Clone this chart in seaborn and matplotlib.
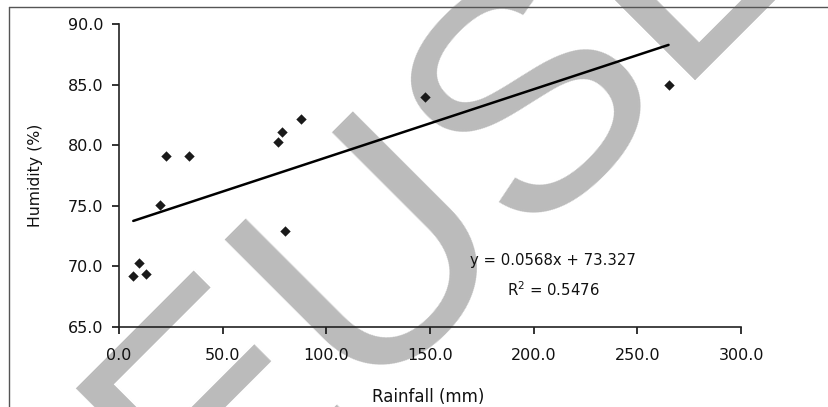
import numpy as np
import pandas as pd
import matplotlib
matplotlib.use('Agg')
import matplotlib.pyplot as plt
from matplotlib.lines import Line2D
import seaborn as sns

# values
rainfall = [6.9, 9.8, 12.9, 19.8, 22.7, 33.9, 76.5, 78.5, 87.9, 80.0, 147.6, 265.0]
humidity = [69.2, 70.3, 69.4, 75.1, 79.1, 79.1, 80.3, 81.1, 82.2, 72.9, 84.0, 85.0]
x_ticks = [0, 50, 100, 150, 200, 250, 300]
y_ticks = [65, 70, 75, 80, 85, 90]
eq_text = "y = 0.0568x + 73.327"
r2_text = "R$^2$ = 0.5476"

df = pd.DataFrame({'Rainfall': rainfall, 'Humidity': humidity})

sns.set_style("ticks")
plt.rcParams['font.family'] = ['DejaVu Sans']

fig = plt.figure(figsize=(8.29, 4.07), dpi=100)
ax = fig.add_axes([0.1435, 0.1966, 0.7505, 0.7445])
ax.patch.set_alpha(0)

# watermark behind the chart
fig.text(0.248, -0.337, "EUSL", rotation=45, rotation_mode='anchor',
         ha='left', va='baseline', fontsize=230, color='#bbbbbb',
         family='Liberation Sans', zorder=-1)

sns.regplot(data=df, x='Rainfall', y='Humidity', ci=None, scatter=False,
            line_kws={'color': 'black', 'lw': 1.8}, ax=ax)
sns.scatterplot(data=df, x='Rainfall', y='Humidity', marker='D', s=28,
                color='#1a1a1a', linewidth=0, ax=ax, zorder=3)

ax.set_xlim(0, 300)
ax.set_ylim(65, 90)
ax.set_xticks(x_ticks)
ax.set_yticks(y_ticks)
ax.set_xticklabels([f"{v:.1f}" for v in x_ticks])
ax.set_yticklabels([f"{v:.1f}" for v in y_ticks])
ax.tick_params(axis='x', direction='out', length=5, width=1.2, pad=10, labelsize=11.5, colors='#111111')
ax.tick_params(axis='y', direction='out', length=5, width=1.2, pad=6, labelsize=11.5, colors='#111111')
for side in ['top', 'right']:
    ax.spines[side].set_visible(False)
for side in ['left', 'bottom']:
    ax.spines[side].set_linewidth(1.2)
    ax.spines[side].set_color('#222222')

ax.set_xlabel("Rainfall (mm)", fontsize=12, color='#111111')
ax.set_ylabel("Humidity (%)", fontsize=11.3, color='#111111')
ax.xaxis.set_label_coords(0.497, -0.201)
ax.yaxis.set_label_coords(-0.122, 0.5)

ax.text(169.3, 70.45, eq_text, fontsize=10.7, va='center', ha='left', color='#111111')
ax.text(187, 68.1, r2_text, fontsize=10.7, va='center', ha='left', color='#111111')

# outer chart-area border (only top and left visible)
fig.add_artist(Line2D([9/829, 9/829], [0, 1 - 7/407], color='#555555', lw=1, transform=fig.transFigure))
fig.add_artist(Line2D([9/829, 1], [1 - 7/407, 1 - 7/407], color='#555555', lw=1, transform=fig.transFigure))

fig.savefig('out.png', dpi=100)
